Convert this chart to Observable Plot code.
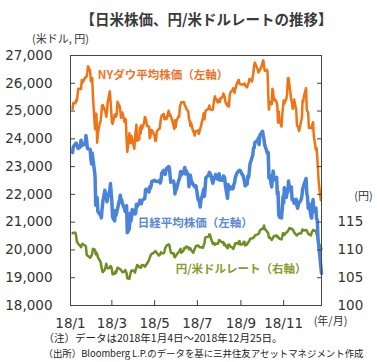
<!DOCTYPE html>
<html>
<head>
<meta charset="utf-8">
<script src="https://cdn.jsdelivr.net/npm/d3@7"></script>
<script src="https://cdn.jsdelivr.net/npm/@observablehq/plot@0.6"></script>
<style>
  html, body { margin: 0; padding: 0; background: #fff; }
</style>
</head>
<body>
<div id="chart"></div>
<script>
// ---------- data ----------
const dow = [
["1/4",25075],["1/5",25295],["1/8",25283],["1/9",25385],["1/10",25369],["1/11",25574],["1/12",25803],["1/16",25792],["1/17",26115],["1/18",26017],["1/19",26071],["1/22",26214],["1/23",26210],["1/24",26252],["1/25",26392],["1/26",26616],["1/29",26439],["1/30",26077],["1/31",26149],
["2/1",26186],["2/2",25520],["2/5",24345],["2/6",24912],["2/7",24893],["2/8",23860],["2/9",24190],["2/12",24601],["2/13",24640],["2/14",24893],["2/15",25200],["2/16",25219],["2/20",24964],["2/21",24797],["2/22",24962],["2/23",25310],["2/26",25709],["2/27",25410],["2/28",25029],
["3/1",24608],["3/2",24538],["3/5",24874],["3/6",24884],["3/7",24801],["3/8",24895],["3/9",25336],["3/12",25178],["3/13",25007],["3/14",24758],["3/15",24873],["3/16",24946],["3/19",24611],["3/20",24727],["3/21",24683],["3/22",23958],["3/23",23533],["3/26",24202],["3/27",23857],["3/28",23849],["3/29",24103],
["4/2",23644],["4/3",24034],["4/4",24264],["4/5",24505],["4/6",23933],["4/9",23979],["4/10",24408],["4/11",24190],["4/12",24483],["4/13",24360],["4/16",24573],["4/17",24786],["4/18",24748],["4/19",24665],["4/20",24463],["4/23",24448],["4/24",24024],["4/25",24084],["4/26",24322],["4/27",24311],["4/30",24163],
["5/1",24100],["5/2",23925],["5/3",23930],["5/4",24263],["5/7",24357],["5/8",24361],["5/9",24543],["5/10",24740],["5/11",24831],["5/14",24900],["5/15",24706],["5/16",24768],["5/17",24714],["5/18",24715],["5/21",25013],["5/22",24834],["5/23",24886],["5/24",24811],["5/25",24753],["5/29",24362],["5/30",24668],["5/31",24416],
["6/1",24635],["6/4",24814],["6/5",24799],["6/6",25146],["6/7",25241],["6/8",25317],["6/11",25322],["6/12",25320],["6/13",25201],["6/14",25175],["6/15",25090],["6/18",24987],["6/19",24700],["6/20",24657],["6/21",24461],["6/22",24581],["6/25",24252],["6/26",24283],["6/27",24117],["6/28",24216],["6/29",24271],
["7/2",24307],["7/3",24174],["7/5",24357],["7/6",24456],["7/9",24776],["7/10",24920],["7/11",24700],["7/12",24924],["7/13",25019],["7/16",25064],["7/17",25120],["7/18",25199],["7/19",25065],["7/20",25058],["7/23",25044],["7/24",25241],["7/25",25415],["7/26",25528],["7/27",25451],["7/30",25307],["7/31",25415],
["8/1",25333],["8/2",25327],["8/3",25463],["8/6",25502],["8/7",25629],["8/8",25583],["8/9",25509],["8/10",25313],["8/13",25188],["8/14",25300],["8/15",25162],["8/16",25558],["8/17",25669],["8/20",25758],["8/21",25822],["8/22",25733],["8/23",25656],["8/24",25790],["8/27",26049],["8/28",26064],["8/29",26124],["8/30",25986],["8/31",25964],
["9/4",25952],["9/5",25974],["9/6",25995],["9/7",25916],["9/10",25857],["9/11",25971],["9/12",25998],["9/13",26145],["9/14",26154],["9/17",26062],["9/18",26246],["9/19",26405],["9/20",26656],["9/21",26743],["9/24",26562],["9/25",26492],["9/26",26385],["9/27",26439],["9/28",26458],
["10/1",26651],["10/2",26773],["10/3",26828],["10/4",26627],["10/5",26447],["10/8",26487],["10/9",26431],["10/10",25599],["10/11",25053],["10/12",25340],["10/15",25251],["10/16",25799],["10/17",25706],["10/18",25379],["10/19",25444],["10/22",25317],["10/23",25191],["10/24",24583],["10/25",24985],["10/26",24689],["10/29",24443],["10/30",24875],["10/31",25116],
["11/1",25380],["11/2",25271],["11/5",25462],["11/6",25636],["11/7",26181],["11/8",26192],["11/9",25989],["11/12",25388],["11/13",25287],["11/14",25081],["11/15",25290],["11/16",25413],["11/19",25018],["11/20",24466],["11/21",24465],["11/23",24286],["11/26",24640],["11/27",24749],["11/28",25367],["11/29",25339],["11/30",25538],
["12/3",25826],["12/4",25027],["12/6",24947],["12/7",24389],["12/10",24423],["12/11",24370],["12/12",24527],["12/13",24597],["12/14",24101],["12/17",23592],["12/18",23675],["12/19",23324],["12/20",22859],["12/21",22445],["12/24",21792]
];

const nikkei = [
["1/4",23506],["1/5",23714],["1/9",23849],["1/10",23788],["1/11",23710],["1/12",23653],["1/15",23714],["1/16",23951],["1/17",23868],["1/18",23763],["1/19",23808],["1/22",23816],["1/23",24124],["1/24",23940],["1/25",23669],["1/26",23631],["1/29",23629],["1/30",23291],["1/31",23098],
["2/1",23486],["2/2",23274],["2/5",22682],["2/6",21610],["2/7",21645],["2/8",21891],["2/9",21383],["2/13",21245],["2/14",21154],["2/15",21464],["2/16",21720],["2/19",22149],["2/20",21925],["2/21",21970],["2/22",21736],["2/23",21892],["2/26",22153],["2/27",22389],["2/28",22068],
["3/1",21724],["3/2",21182],["3/5",21042],["3/6",21417],["3/7",21253],["3/8",21368],["3/9",21469],["3/12",21824],["3/13",21968],["3/14",21777],["3/15",21803],["3/16",21676],["3/19",21480],["3/20",21380],["3/22",21591],["3/23",20617],["3/26",20766],["3/27",21317],["3/28",21031],["3/29",21159],["3/30",21454],
["4/2",21388],["4/3",21292],["4/4",21319],["4/5",21645],["4/6",21567],["4/9",21678],["4/10",21794],["4/11",21687],["4/12",21660],["4/13",21778],["4/16",21835],["4/17",21847],["4/18",22158],["4/19",22191],["4/20",22162],["4/23",22088],["4/24",22278],["4/25",22215],["4/26",22319],["4/27",22467],
["5/1",22508],["5/2",22472],["5/7",22467],["5/8",22508],["5/9",22408],["5/10",22497],["5/11",22758],["5/14",22865],["5/15",22818],["5/16",22717],["5/17",22838],["5/18",22930],["5/21",23002],["5/22",22960],["5/23",22689],["5/24",22437],["5/25",22450],["5/28",22481],["5/29",22358],["5/30",22018],["5/31",22201],
["6/1",22171],["6/4",22475],["6/5",22539],["6/6",22625],["6/7",22823],["6/8",22694],["6/11",22804],["6/12",22878],["6/13",22966],["6/14",22738],["6/15",22851],["6/18",22680],["6/19",22278],["6/20",22555],["6/21",22693],["6/22",22516],["6/25",22338],["6/26",22342],["6/27",22271],["6/28",22270],["6/29",22304],
["7/2",21811],["7/3",21785],["7/4",21717],["7/5",21546],["7/6",21788],["7/9",22052],["7/10",22196],["7/11",21932],["7/12",22187],["7/13",22597],["7/17",22697],["7/18",22794],["7/19",22764],["7/20",22698],["7/23",22397],["7/24",22510],["7/25",22614],["7/26",22586],["7/27",22713],["7/30",22544],["7/31",22553],
["8/1",22746],["8/2",22512],["8/3",22525],["8/6",22507],["8/7",22662],["8/8",22644],["8/9",22598],["8/10",22298],["8/13",21857],["8/14",22356],["8/15",22204],["8/16",22192],["8/17",22270],["8/20",22199],["8/21",22219],["8/22",22362],["8/23",22410],["8/24",22601],["8/27",22799],["8/28",22813],["8/29",22848],["8/30",22869],["8/31",22865],
["9/3",22707],["9/4",22696],["9/5",22580],["9/6",22487],["9/7",22307],["9/10",22373],["9/11",22664],["9/12",22604],["9/13",22821],["9/14",23094],["9/18",23420],["9/19",23672],["9/20",23674],["9/21",23869],["9/25",23940],["9/26",24033],["9/27",23796],["9/28",24120],
["10/1",24245],["10/2",24270],["10/3",24110],["10/4",23975],["10/5",23783],["10/9",23469],["10/10",23506],["10/11",22590],["10/12",22694],["10/15",22271],["10/16",22549],["10/17",22841],["10/18",22658],["10/19",22532],["10/22",22614],["10/23",22010],["10/24",22091],["10/25",21268],["10/26",21184],["10/29",21149],["10/30",21457],["10/31",21920],
["11/1",21687],["11/2",22243],["11/5",21898],["11/6",22147],["11/7",22085],["11/8",22486],["11/9",22250],["11/12",22269],["11/13",21810],["11/14",21846],["11/15",21803],["11/16",21680],["11/19",21821],["11/20",21583],["11/21",21507],["11/22",21647],["11/26",21812],["11/27",21952],["11/28",22177],["11/29",22262],["11/30",22351],
["12/3",22574],["12/4",22036],["12/5",21919],["12/6",21501],["12/7",21678],["12/10",21219],["12/11",21148],["12/12",21602],["12/13",21816],["12/14",21374],["12/17",21506],["12/18",21115],["12/19",21077],["12/20",20392],["12/21",20166],["12/25",19155]
];

const usdjpy = [
["1/4",113.0],["1/5",113.1],["1/8",113.1],["1/9",112.6],["1/10",111.5],["1/11",111.4],["1/12",111.1],["1/15",110.7],["1/16",110.5],["1/17",110.9],["1/18",111.1],["1/19",111.0],["1/22",110.8],["1/23",110.6],["1/24",109.2],["1/25",109.0],["1/26",108.9],["1/29",108.6],["1/30",108.8],["1/31",109.0],
["2/1",109.4],["2/2",110.2],["2/5",110.0],["2/6",109.2],["2/7",109.5],["2/8",109.3],["2/9",108.7],["2/13",107.8],["2/14",107.0],["2/15",106.4],["2/16",106.0],["2/19",106.5],["2/20",106.9],["2/21",107.5],["2/22",107.0],["2/23",106.7],["2/26",106.8],["2/27",107.1],["2/28",107.0],
["3/1",106.5],["3/2",105.6],["3/5",105.7],["3/6",106.1],["3/7",105.9],["3/8",106.3],["3/9",106.8],["3/12",106.6],["3/13",106.5],["3/14",106.4],["3/15",106.2],["3/16",106.0],["3/19",106.1],["3/20",106.4],["3/22",105.8],["3/23",104.9],["3/26",104.8],["3/27",105.5],["3/28",106.0],["3/29",106.3],["3/30",106.3],
["4/2",106.2],["4/3",105.9],["4/4",106.5],["4/5",106.8],["4/6",107.3],["4/9",106.9],["4/10",107.0],["4/11",106.8],["4/12",106.9],["4/13",107.3],["4/16",107.2],["4/17",107.0],["4/18",107.1],["4/19",107.4],["4/20",107.5],["4/23",108.2],["4/24",108.6],["4/25",108.9],["4/26",109.2],["4/27",109.3],
["5/1",109.6],["5/2",109.8],["5/7",109.0],["5/8",109.1],["5/9",109.2],["5/10",109.6],["5/11",109.4],["5/14",109.4],["5/15",109.7],["5/16",110.3],["5/17",110.5],["5/18",110.8],["5/21",111.0],["5/22",110.9],["5/23",110.2],["5/24",109.6],["5/25",109.4],["5/28",109.4],["5/29",108.8],["5/30",108.7],["5/31",108.9],
["6/1",109.1],["6/4",109.6],["6/5",109.7],["6/6",110.0],["6/7",110.2],["6/8",109.5],["6/11",109.8],["6/12",110.3],["6/13",110.4],["6/14",110.3],["6/15",110.6],["6/18",110.5],["6/19",110.1],["6/20",110.2],["6/21",110.3],["6/22",110.0],["6/25",109.5],["6/26",109.8],["6/27",110.2],["6/28",110.4],["6/29",110.7],
["7/2",110.8],["7/3",110.7],["7/4",110.5],["7/5",110.5],["7/6",110.5],["7/9",110.4],["7/10",110.9],["7/11",111.1],["7/12",112.1],["7/13",112.3],["7/17",112.4],["7/18",112.8],["7/19",112.8],["7/20",112.2],["7/23",111.1],["7/24",111.3],["7/25",111.2],["7/26",110.9],["7/27",111.1],["7/30",111.1],["7/31",111.4],
["8/1",111.8],["8/2",111.7],["8/3",111.6],["8/6",111.3],["8/7",111.4],["8/8",110.9],["8/9",111.1],["8/10",110.8],["8/13",110.3],["8/14",110.9],["8/15",111.0],["8/16",110.8],["8/17",110.6],["8/20",110.4],["8/21",110.2],["8/22",110.4],["8/23",110.8],["8/24",111.2],["8/27",111.2],["8/28",111.1],["8/29",111.5],["8/30",111.6],["8/31",111.0],
["9/3",111.0],["9/4",111.2],["9/5",111.4],["9/6",111.5],["9/7",110.8],["9/10",111.0],["9/11",111.4],["9/12",111.4],["9/13",111.6],["9/14",112.0],["9/18",112.1],["9/19",112.3],["9/20",112.3],["9/21",112.6],["9/25",112.8],["9/26",112.9],["9/27",113.0],["9/28",113.5],
["10/1",113.8],["10/2",113.9],["10/3",113.8],["10/4",114.4],["10/5",113.8],["10/9",113.2],["10/10",113.0],["10/11",112.2],["10/12",112.3],["10/15",111.8],["10/16",112.0],["10/17",112.2],["10/18",112.5],["10/19",112.5],["10/22",112.6],["10/23",112.3],["10/24",112.4],["10/25",112.2],["10/26",112.0],["10/29",111.9],["10/30",112.4],["10/31",113.0],
["11/1",113.0],["11/2",112.7],["11/5",113.2],["11/6",113.2],["11/7",113.4],["11/8",113.6],["11/9",113.9],["11/12",113.8],["11/13",113.8],["11/14",113.6],["11/15",113.5],["11/16",113.1],["11/19",112.7],["11/20",112.6],["11/21",112.8],["11/22",112.9],["11/26",113.0],["11/27",113.4],["11/28",113.7],["11/29",113.5],["11/30",113.5],
["12/3",113.6],["12/4",113.5],["12/5",113.2],["12/6",112.9],["12/7",112.8],["12/10",112.6],["12/11",113.2],["12/12",113.3],["12/13",113.6],["12/14",113.5],["12/17",113.4],["12/18",112.8],["12/19",112.5],["12/20",112.2],["12/21",111.2],["12/25",110.2]
];

const leftTicks = [18000,19000,20000,21000,22000,23000,24000,25000,26000,27000];
const rightTicks = [100,105,110,115,120,125,130,135,140,145];
const rightLabels = [100,105,110,115];
const xTickLabels = ["1/1","3/1","5/1","7/1","9/1","11/1"];
const xDomain = ["1/1","12/25"];

const seriesLabels = [
  {text: "NYダウ平均株価（左軸）", date: "2/9", value: 26280, color: "#ED7427"},
  {text: "日経平均株価（左軸）", date: "4/7", value: 20960, color: "#5B88D6"},
  {text: "円/米ドルレート（右軸）", date: "5/31", yen: 106.6, color: "#8A9A2E"}
];

const title = "【日米株価、円/米ドルレートの推移】";
const leftUnit = "(米ドル, 円)";
const rightUnit = "(円)";
const xUnit = "(年/月)";
const notes = ["（注）データは2018年1月4日～2018年12月25日。",
               "（出所）Bloomberg L.P.のデータを基に三井住友アセットマネジメント作成"];

// ---------- helpers ----------
const parse = s => { const [m, d] = s.split("/").map(Number); return new Date(Date.UTC(2018, m - 1, d)); };
const toLeft = yen => 18000 + (yen - 100) * 200;
const fromLeft = v => 100 + (v - 18000) / 200;
const rows = arr => arr.map(([d, v]) => ({date: parse(d), value: v}));

const dowData = rows(dow);
const nikkeiData = rows(nikkei);
const fxData = rows(usdjpy).map(d => ({date: d.date, value: toLeft(d.value)}));
const labelData = seriesLabels.map(l => ({...l, date: parse(l.date), value: l.value ?? toLeft(l.yen)}));

const FONT = "'DejaVu Sans', 'Noto Sans CJK JP', sans-serif";
const JP = "'Noto Sans CJK JP', sans-serif";

const chart = Plot.plot({
  width: 377,
  height: 362,
  marginTop: 55,
  marginRight: 56,
  marginBottom: 57,
  marginLeft: 70,
  style: {fontFamily: FONT, fontSize: "13px", color: "#333", background: "#fff", overflow: "visible"},
  x: {type: "utc", domain: xDomain.map(parse)},
  y: {domain: [leftTicks[0], leftTicks[leftTicks.length - 1]]},
  marks: [
    Plot.line(fxData, {x: "date", y: "value", stroke: "#6F8E22", strokeWidth: 2.5}),
    Plot.line(nikkeiData, {x: "date", y: "value", stroke: "#4A84DA", strokeWidth: 3.5}),
    Plot.line(dowData, {x: "date", y: "value", stroke: "#F07315", strokeWidth: 2.5}),
    Plot.frame({stroke: "#444", strokeWidth: 1}),
    Plot.axisY({anchor: "left", ticks: leftTicks, tickSize: 5, dx: 5, tickPadding: 18,
      tickFormat: d3.format(","), label: null, stroke: "#444", fill: "#333", fontSize: 13.5}),
    Plot.axisY({anchor: "right", ticks: rightTicks.map(toLeft), tickSize: 5, dx: -5, tickPadding: 16,
      tickFormat: v => rightLabels.includes(fromLeft(v)) ? String(fromLeft(v)) : "",
      label: null, stroke: "#444", fill: "#333", fontSize: 13.5}),
    Plot.axisX({ticks: xTickLabels.map(parse), tickSize: 5, dy: -5, tickPadding: 13,
      tickFormat: d => "18/" + (d.getUTCMonth() + 1), label: null, stroke: "#444", fill: "#333", fontSize: 13.5}),
    Plot.text(labelData, {x: "date", y: "value", text: "text", fill: "color", textAnchor: "start",
      fontFamily: JP, fontWeight: "bold", fontSize: 11.5}),
    Plot.text([title], {frameAnchor: "top", dx: 10.5, dy: -35, textAnchor: "middle", lineAnchor: "middle",
      fontFamily: JP, fontWeight: "bold", fontSize: 14.5, fill: "#3a3a3a"}),
    Plot.text([leftUnit], {frameAnchor: "top-left", dx: -10, dy: -16, textAnchor: "middle", lineAnchor: "middle",
      fontFamily: JP, fontSize: 11, fill: "#333"}),
    Plot.text([rightUnit], {frameAnchor: "top-right", dx: 42, dy: 141, textAnchor: "middle", lineAnchor: "middle",
      fontFamily: JP, fontSize: 11, fill: "#333"}),
    Plot.text([xUnit], {frameAnchor: "bottom-right", dx: 9, dy: 16, textAnchor: "middle", lineAnchor: "middle",
      fontFamily: JP, fontSize: 11, fill: "#333"}),
    Plot.text([notes[0]], {frameAnchor: "bottom-left", dx: -27, dy: 33, textAnchor: "start", lineAnchor: "middle",
      fontFamily: JP, fontSize: 10.5, fill: "#222"}),
    Plot.text([notes[1]], {frameAnchor: "bottom-left", dx: -27, dy: 48, textAnchor: "start", lineAnchor: "middle",
      fontFamily: JP, fontSize: 9.5, fill: "#222"})
  ]
});
// fit the long source line into the width the reference gives it
d3.select(chart).selectAll("text").filter(function() { return this.textContent === notes[1]; })
  .attr("textLength", 320).attr("lengthAdjust", "spacingAndGlyphs");
document.getElementById("chart").appendChild(chart);
</script>
</body>
</html>
